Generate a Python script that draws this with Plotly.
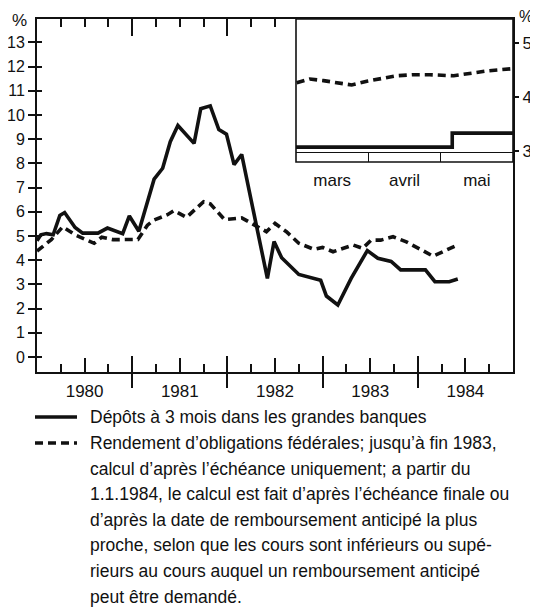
import plotly.graph_objects as go

# ---------------- data ----------------
years = ["1980", "1981", "1982", "1983", "1984"]
months = ["mars", "avril", "mai"]

# Dépôts à 3 mois (solid) – decimal years / percent
dep_x = [1980.00, 1980.04, 1980.10, 1980.17, 1980.24, 1980.29, 1980.40, 1980.48,
         1980.64, 1980.74, 1980.90, 1980.97, 1981.07, 1981.23, 1981.32, 1981.40,
         1981.48, 1981.65, 1981.72, 1981.82, 1981.91, 1981.99, 1982.07, 1982.15,
         1982.42, 1982.49, 1982.57, 1982.75, 1982.98, 1983.04, 1983.16, 1983.30,
         1983.47, 1983.58, 1983.72, 1983.82, 1984.08, 1984.18, 1984.33, 1984.42]
dep_y = [4.80, 5.05, 5.10, 5.05, 5.85, 5.97, 5.35, 5.12,
         5.12, 5.33, 5.10, 5.83, 5.20, 7.35, 7.80, 8.90,
         9.57, 8.83, 10.26, 10.38, 9.40, 9.21, 7.95, 8.37,
         3.25, 4.77, 4.10, 3.41, 3.17, 2.52, 2.15, 3.25,
         4.40, 4.08, 3.95, 3.60, 3.60, 3.11, 3.11, 3.22]

# Rendement d'obligations fédérales (dashed)
obl_x = [1980.00, 1980.15, 1980.27, 1980.40, 1980.60, 1980.68, 1980.80, 1981.06,
         1981.16, 1981.23, 1981.37, 1981.44, 1981.57, 1981.75, 1981.82, 1981.97,
         1982.15, 1982.26, 1982.41, 1982.50, 1982.62, 1982.75, 1982.91, 1983.00,
         1983.11, 1983.32, 1983.42, 1983.51, 1983.61, 1983.74, 1983.88, 1984.16,
         1984.42]
obl_y = [4.38, 4.85, 5.38, 5.05, 4.70, 4.95, 4.85, 4.86,
         5.45, 5.66, 5.88, 6.05, 5.77, 6.42, 6.33, 5.68,
         5.75, 5.50, 5.18, 5.52, 5.18, 4.70, 4.45, 4.53,
         4.35, 4.63, 4.49, 4.83, 4.83, 4.97, 4.76, 4.17,
         4.63]

# Inset (March-May 1984), x in months since 1 March
inset_obl_x = [0.01, 0.19, 0.38, 0.56, 0.77, 0.98, 1.21, 1.39, 1.62, 1.85,
               2.18, 2.36, 2.64, 2.98]
inset_obl_y = [4.26, 4.33, 4.30, 4.26, 4.22, 4.29, 4.34, 4.39, 4.41, 4.41,
               4.39, 4.43, 4.48, 4.52]
inset_dep_x = [0.0, 2.16, 3.0]
inset_dep_y = [3.07, 3.33, 3.33]

y_ticks = list(range(0, 14))
inset_y_ticks = [3, 4, 5]

legend_lines = [
    "Dépôts à 3 mois dans les grandes banques",
    "Rendement d’obligations fédérales; jusqu’à fin 1983,",
    "calcul d’après l’échéance uniquement; a partir du",
    "1.1.1984, le calcul est fait d’après l’échéance finale ou",
    "d’après la date de remboursement anticipé la plus",
    "proche, selon que les cours sont inférieurs ou supé-",
    "rieurs au cours auquel un remboursement anticipé",
    "peut être demandé.",
]

# ---------------- geometry / style ----------------
OFF = 8                      # default page margin of the html body
W, H = 538 - OFF, 614 - OFF
L, T = 37 - OFF, 19 - OFF
R = W - (513 - OFF)
B = H - (372 - OFF)
PW, PH = W - L - R, H - T - B
FONT = "Liberation Sans, Arial, Helvetica, sans-serif"
BLACK = "#111111"
FS = 17


def px(xp):
    """page pixel x -> paper fraction"""
    return (xp - OFF - L) / PW


def py(yp):
    """page pixel y -> paper fraction"""
    return (H - B - (yp - OFF)) / PH


y0 = int(years[0])
x_range = [y0, y0 + len(years)]
y_range = [-0.62, 13.97]
mids = [y0 + i + 0.5 for i in range(len(years))]
bounds = [y0 + i for i in range(1, len(years))]
quarters = [y0 + i + q for i in range(len(years)) for q in (0.25, 0.75)]

inset_dom_x = [px(296), 1.0]
inset_dom_y = [py(151.5), 1.0]
inset_left_year = x_range[0] + inset_dom_x[0] * (x_range[1] - x_range[0])
top_short = sorted([v for v in quarters + mids if v < inset_left_year - 0.1])
top_long = [v for v in bounds if v < inset_left_year - 0.1]

fig = go.Figure()
line_w = 3.6
fig.add_trace(go.Scatter(x=dep_x, y=dep_y, mode="lines",
                         line=dict(color=BLACK, width=line_w),
                         showlegend=False, name="Dépôts à 3 mois"))
fig.add_trace(go.Scatter(x=obl_x, y=obl_y, mode="lines",
                         line=dict(color=BLACK, width=line_w, dash="8px,5px"),
                         showlegend=False, name="Rendement d'obligations fédérales"))
fig.add_trace(go.Scatter(x=inset_obl_x, y=inset_obl_y, mode="lines", xaxis="x7", yaxis="y3",
                         line=dict(color=BLACK, width=line_w, dash="8px,5px"),
                         showlegend=False))
fig.add_trace(go.Scatter(x=inset_dep_x, y=inset_dep_y, mode="lines", xaxis="x7", yaxis="y3",
                         line=dict(color=BLACK, width=line_w, shape="hv"),
                         showlegend=False))

# empty helper traces so that the tick-only overlay axes get drawn
for xa, ya in [("x2", "y"), ("x3", "y"), ("x4", "y"), ("x5", "y"), ("x6", "y"),
               ("x", "y2"), ("x8", "y3")]:
    fig.add_trace(go.Scatter(x=[], y=[], xaxis=xa, yaxis=ya, mode="lines",
                             showlegend=False, hoverinfo="skip"))

tickfont = dict(family=FONT, size=FS, color=BLACK)
ytickfont = dict(family=FONT, size=16, color=BLACK)
common_x = dict(range=x_range, showgrid=False, zeroline=False, tickcolor=BLACK,
                tickwidth=1.5, tickmode="array", automargin=False)

fig.update_layout(
    width=W, height=H,
    margin=dict(l=L, r=R, t=T, b=B, pad=0, autoexpand=False),
    paper_bgcolor="white", plot_bgcolor="white",
    font=dict(family=FONT, size=FS, color=BLACK),
    # bottom: year labels + mid-year inside ticks
    xaxis=dict(**common_x, tickvals=mids, ticktext=years, ticks="inside", ticklen=14,
               showline=True, linecolor=BLACK, linewidth=2, tickfont=tickfont,
               ticklabelstandoff=3, anchor="y"),
    # bottom quarter ticks
    xaxis2=dict(**common_x, tickvals=quarters, ticks="inside", ticklen=8,
                showticklabels=False, overlaying="x", anchor="y", side="bottom"),
    # bottom year boundaries, inside
    xaxis3=dict(**common_x, tickvals=bounds, ticks="inside", ticklen=16,
                showticklabels=False, overlaying="x", anchor="y", side="bottom"),
    # bottom year boundaries, outside
    xaxis4=dict(**common_x, tickvals=bounds, ticks="outside", ticklen=15,
                showticklabels=False, overlaying="x", anchor="y", side="bottom"),
    # top short ticks
    xaxis5=dict(**common_x, tickvals=top_short, ticks="inside", ticklen=8,
                showticklabels=False, overlaying="x", anchor="y", side="top",
                showline=True, linecolor=BLACK, linewidth=2),
    # top long ticks
    xaxis6=dict(**common_x, tickvals=top_long, ticks="inside", ticklen=17,
                showticklabels=False, overlaying="x", anchor="y", side="top"),
    yaxis=dict(range=y_range, tickmode="array", tickvals=y_ticks, ticks="outside",
               ticklen=7, tickwidth=1.5, tickcolor=BLACK, showgrid=False,
               zeroline=False, showline=True, linecolor=BLACK, linewidth=2,
               mirror=True, tickfont=ytickfont, anchor="x", automargin=False),
    yaxis2=dict(range=y_range, tickmode="array", tickvals=y_ticks, ticks="inside",
                ticklen=5, tickwidth=1.5, tickcolor=BLACK, showgrid=False,
                zeroline=False, showticklabels=False, overlaying="y", anchor="x",
                side="left", automargin=False),
    # inset
    xaxis7=dict(domain=inset_dom_x, range=[0, len(months)], tickmode="array",
                tickvals=list(range(1, len(months))), ticks="outside", ticklen=9,
                tickwidth=1.2, tickcolor=BLACK, showticklabels=False, showgrid=False,
                zeroline=False, showline=True, linecolor=BLACK, linewidth=1.2,
                anchor="y3", automargin=False),
    xaxis8=dict(domain=inset_dom_x, range=[0, len(months)], tickmode="array",
                tickvals=[i + 0.5 for i in range(len(months))], ticktext=months,
                ticks="", showgrid=False, zeroline=False, showline=False,
                tickfont=tickfont, ticklabelstandoff=16, overlaying="x7",
                anchor="y3", side="bottom", automargin=False),
    yaxis3=dict(domain=inset_dom_y, range=[2.99, 5.44], tickmode="array",
                tickvals=inset_y_ticks, ticks="outside", ticklen=5, tickwidth=1.5,
                tickcolor=BLACK, side="right", showgrid=False, zeroline=False,
                showline=False, tickfont=tickfont, anchor="x7", automargin=False),
)

shapes = []
# inset frame (extends below the inset data area)
shapes.append(dict(type="rect", xref="paper", yref="paper",
                   x0=inset_dom_x[0], x1=1.0, y0=py(162), y1=1.0,
                   line=dict(color=BLACK, width=1.6), fillcolor="rgba(0,0,0,0)"))
# legend keys
shapes.append(dict(type="line", xref="paper", yref="paper", x0=px(35), x1=px(77),
                   y0=py(417), y1=py(417), line=dict(color=BLACK, width=line_w)))
shapes.append(dict(type="line", xref="paper", yref="paper", x0=px(35), x1=px(77),
                   y0=py(443), y1=py(443),
                   line=dict(color=BLACK, width=line_w, dash="8px,5px")))
fig.update_layout(shapes=shapes)

annotations = [
    dict(text="%", xref="paper", yref="paper", x=px(19), y=py(20),
         showarrow=False, xanchor="center", yanchor="middle", font=tickfont),
    dict(text="%", xref="paper", yref="paper", x=px(526), y=py(17),
         showarrow=False, xanchor="center", yanchor="middle",
         font=dict(family=FONT, size=16, color=BLACK)),
]
line_y = [417, 443, 469, 494, 520, 545, 571, 597]
for txt, yy in zip(legend_lines, line_y):
    annotations.append(dict(text=txt, xref="paper", yref="paper", x=px(88), y=py(yy),
                            showarrow=False, xanchor="left", yanchor="middle",
                            font=dict(family=FONT, size=17.5, color=BLACK)))
fig.update_layout(annotations=annotations)

fig.write_html("out.html")
